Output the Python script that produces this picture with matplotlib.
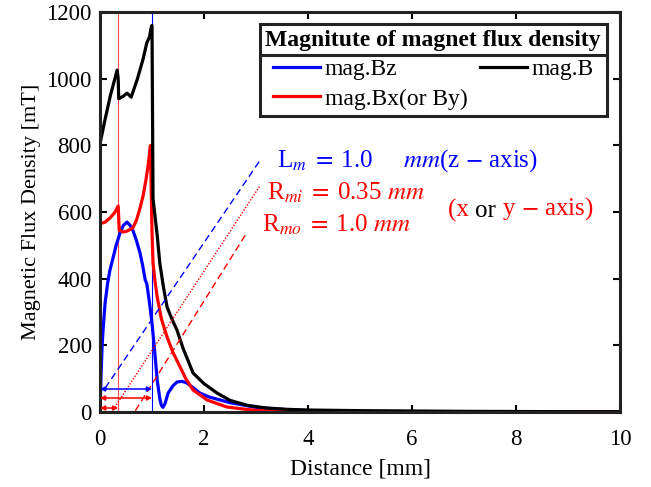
import matplotlib
matplotlib.use("Agg")
import matplotlib.pyplot as plt
from matplotlib.lines import Line2D

plt.rcParams['font.family'] = 'serif'
plt.rcParams['font.serif'] = ['Liberation Serif', 'DejaVu Serif']
plt.rcParams['mathtext.fontset'] = 'stix'

# mag.B
x_b = [0, 0.1, 0.2, 0.33, 0.35, 0.36, 0.45, 0.52, 0.6, 0.72, 0.83, 0.9, 0.95, 0.99,
       1.0, 1.02, 1.06, 1.1, 1.15, 1.22, 1.29, 1.38, 1.48, 1.6, 1.79, 2.0, 2.25,
       2.5, 2.83, 3.2, 3.6, 4.0, 5.0, 6.0, 7.0, 8.0, 9.0, 10.0]
y_b = [805, 880, 950, 1026, 1000, 940, 948, 957, 945, 1000, 1060, 1108, 1125, 1158,
       1160, 640, 585, 530, 447, 375, 315, 280, 246, 190, 117, 85, 57,
       35, 20, 12, 8, 6, 4, 3, 2, 1.5, 1, 1]

# mag.Bx (or By)
x_r = [0, 0.1, 0.19, 0.28, 0.35, 0.37, 0.45, 0.52, 0.63, 0.7, 0.77, 0.83, 0.88, 0.93,
       0.97, 1.0, 1.02, 1.06, 1.1, 1.18, 1.29, 1.4, 1.54, 1.65, 1.79, 2.06, 2.44,
       2.8, 3.1, 3.5, 4.0, 5.0, 6.0, 8.0, 10.0]
y_r = [565, 570, 582, 598, 618, 546, 540, 543, 552, 575, 612, 650, 693, 745,
       800, 540, 447, 390, 345, 280, 225, 180, 135, 100, 66, 36, 15,
       8, 4, 3, 2, 1, 0.5, 0.3, 0.2]

# mag.Bz
x_z = [0, 0.02, 0.04, 0.06, 0.1, 0.15, 0.19, 0.25, 0.31, 0.38, 0.45, 0.52, 0.58, 0.63,
       0.7, 0.77, 0.82, 0.87, 0.9, 0.95, 1.0, 1.05, 1.1, 1.15, 1.18, 1.21, 1.25,
       1.31, 1.4, 1.48, 1.58, 1.67, 1.8, 1.92, 2.1, 2.5, 3.0, 3.5, 4.0, 5.0, 6.0, 8.0, 10.0]
y_z = [0, 110, 195, 250, 330, 390, 425, 462, 500, 535, 560, 570, 560, 546,
       515, 477, 440, 396, 385, 330, 267, 185, 96, 40, 20, 14, 25,
       57, 78, 90, 92, 87, 72, 57, 45, 28, 14, 8, 4, 2, 1, 0.5, 0.3]

fig = plt.figure(figsize=(6.51, 4.87), dpi=100)
ax = fig.add_axes([0.1536, 0.154, 0.7988, 0.821])

ax.axvline(0.35, color=(1, 0.3, 0.3), lw=0.8)
ax.axvline(1.0, color='blue', lw=0.8)

lz, = ax.plot(x_z, y_z, color='blue', lw=2.3, label='mag.Bz')
lr, = ax.plot(x_r, y_r, color='red', lw=2.3, label='mag.Bx(or By)')
lb, = ax.plot(x_b, y_b, color='black', lw=2.3, label='mag.B')

# dimension arrows
arrow_kw = dict(arrowstyle='<|-|>', lw=1.1, mutation_scale=7, shrinkA=0, shrinkB=0)
ax.annotate('', xy=(1.0, 69), xytext=(0, 69), arrowprops=dict(color='blue', **arrow_kw))
ax.annotate('', xy=(1.0, 42), xytext=(0, 42), arrowprops=dict(color='red', **arrow_kw))
ax.annotate('', xy=(0.35, 12), xytext=(0, 12), arrowprops=dict(color='red', **arrow_kw))

# leader lines
ax.plot([0.1, 3.08], [72, 756], color='blue', lw=1.0, ls=(0, (5, 3)))
ax.plot([0.25, 3.08], [6, 680], color='red', lw=1.0, ls=(0, (1, 1.2)))
ax.plot([0.68, 2.83], [4, 540], color='red', lw=1.0, ls=(0, (5, 3)))

fs = 18
ax.text(3.4, 756, r'L$_{m}\;=\;$1.0     $mm$(z $-$ axis)', color='blue', fontsize=fs, va='center')
ax.text(3.21, 657, r'R$_{mi}\;=\;$0.35 $mm$', color='red', fontsize=fs, va='center')
ax.text(3.12, 561, r'R$_{mo}\;=\;$1.0 $mm$', color='red', fontsize=fs, va='center')
t1 = ax.text(6.69, 606, '(x ', color='red', fontsize=fs, va='center')
t2 = ax.annotate('or', xy=(1, 0), xycoords=t1, color='black', fontsize=fs, va='bottom')
ax.annotate(r' y $-$ axis)', xy=(1, 0), xycoords=t2, color='red', fontsize=fs, va='bottom')

ax.set_xlim(0, 10)
ax.set_ylim(0, 1200)
ax.set_xticks([0, 2, 4, 6, 8, 10])
ax.set_yticks([0, 200, 400, 600, 800, 1000, 1200])
ax.tick_params(direction='in', top=True, right=True, length=5, width=1.5,
               labelsize=16.5)
ax.tick_params(axis='x', pad=12)
ax.tick_params(axis='y', pad=6)
for s in ax.spines.values():
    s.set_linewidth(2.2)
    s.set_color('#222222')
ax.set_xlabel('Distance [mm]', fontsize=17, labelpad=6)
ax.set_ylabel('Magnetic Flux Density [mT]', fontsize=16, labelpad=4)

leg = ax.legend(handles=[lz, lr, lb], ncol=2, loc='upper right',
                bbox_to_anchor=(0.975, 0.97), fontsize=17,
                title='Magnitute of magnet flux density',
                title_fontproperties={'weight': 'bold', 'size': 17},
                frameon=True, fancybox=False, edgecolor='#222222',
                handlelength=2.0, handletextpad=0.2, columnspacing=0.5,
                labelspacing=0.33, borderpad=0.25, borderaxespad=0,
                framealpha=1)
leg.get_frame().set_linewidth(2.2)

fig.canvas.draw()
fb = leg.get_frame().get_window_extent()
tb = leg.get_title().get_window_extent()
inv = fig.transFigure.inverted()
(x0, _), (x1, _) = inv.transform([[fb.x0, 0], [fb.x1, 0]])
_, ysep = inv.transform([0, tb.y0 - 4])
fig.add_artist(Line2D([x0, x1], [ysep, ysep], color='#222222', lw=2.2,
                      transform=fig.transFigure))

fig.savefig('out.png', dpi=100)
